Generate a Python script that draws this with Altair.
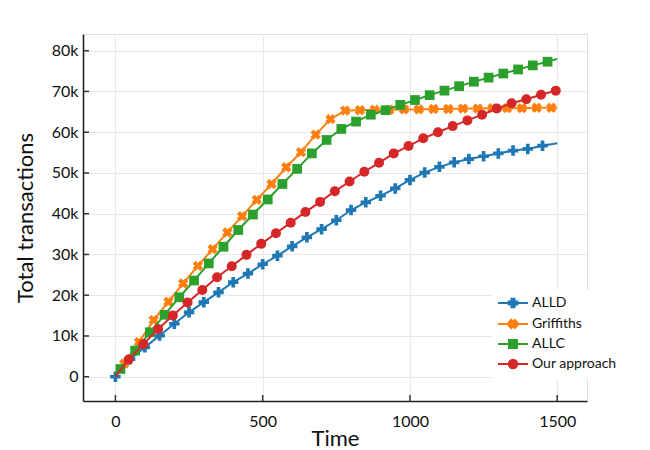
import altair as alt
import pandas as pd

SERIES = ["ALLD", "Griffiths", "ALLC", "Our approach"]
COLORS = ["#1f77b4", "#ff7f0e", "#2ca02c", "#d62728"]

# ALLD (blue, plus markers)
alld_t = [0, 50, 100, 150, 200, 250, 300, 350, 400, 450, 500, 550, 600, 650, 700,
          750, 800, 850, 900, 950, 1000, 1050, 1100, 1150, 1200, 1250, 1300, 1350,
          1400, 1450, 1500]
alld_v = [0, 4300, 7200, 10100, 13000, 15800, 18300, 20700, 23200, 25300, 27600,
          29700, 32000, 34200, 36200, 38400, 40900, 42800, 44400, 46200, 48300,
          50100, 51500, 52600, 53400, 54100, 54800, 55500, 55900, 56700, 57300]

# Griffiths (orange, x markers)
grif_t = [0, 30, 80, 130, 180, 230, 280, 330, 380, 430, 480, 530, 580, 630, 680,
          730, 780, 830, 880, 930, 980, 1030, 1080, 1130, 1180, 1230, 1280, 1330,
          1380, 1430, 1480, 1500]
grif_v = [0, 3200, 8500, 13900, 18400, 22900, 27200, 31300, 35400, 39400, 43400,
          47300, 51400, 55100, 59400, 63200, 65300, 65400, 65500, 65500, 65600,
          65600, 65700, 65700, 65800, 65800, 65900, 65900, 65900, 66000, 66000, 66000]

# ALLC (green, square markers)
allc_t = [0, 17, 67, 117, 167, 217, 267, 317, 367, 417, 467, 517, 567, 617, 667,
          717, 767, 817, 867, 917, 967, 1017, 1067, 1117, 1167, 1217, 1267, 1317,
          1367, 1417, 1467, 1500]
allc_v = [0, 1900, 6400, 10900, 15200, 19500, 23600, 27800, 31900, 36000, 39800,
          43500, 47300, 51000, 54800, 58100, 60800, 62600, 64300, 65400, 66700,
          67900, 69100, 70200, 71300, 72400, 73400, 74400, 75400, 76400, 77300, 78000]

# Our approach (red, circle markers)
ours_t = [0, 45, 95, 145, 195, 245, 295, 345, 395, 445, 495, 545, 595, 645, 695,
          745, 795, 845, 895, 945, 995, 1045, 1095, 1145, 1195, 1245, 1295, 1345,
          1395, 1445, 1495, 1500]
ours_v = [0, 4200, 8000, 11700, 15000, 18200, 21300, 24400, 27100, 29900, 32600,
          35200, 37800, 40400, 42900, 45500, 47900, 50300, 52500, 54800, 56600,
          58500, 60000, 61500, 62900, 64300, 65800, 67100, 68100, 69200, 70200, 70300]

TS = [alld_t, grif_t, allc_t, ours_t]
VS = [alld_v, grif_v, allc_v, ours_v]
MARKER_START = [0, 1, 1, 1]

X_TICKS = [0, 500, 1000, 1500]
Y_TICKS = [0, 10000, 20000, 30000, 40000, 50000, 60000, 70000, 80000]
X_DOMAIN = [-110, 1601]
Y_DOMAIN = [-5960, 84100]

W, H = 504, 367
FONT = "Lato"

PLUS = ("M-1,-0.35L-1,0.35L-0.35,0.35L-0.35,1L0.35,1L0.35,0.35L1,0.35L1,-0.35"
        "L0.35,-0.35L0.35,-1L-0.35,-1L-0.35,-0.35Z")
XCROSS = ("M-0.42,-0.99L-0.99,-0.42L-0.57,0L-0.99,0.42L-0.42,0.99L0,0.57L0.42,0.99"
          "L0.99,0.42L0.57,0L0.99,-0.42L0.42,-0.99L0,-0.57Z")
MARKER_PATHS = [PLUS, XCROSS, "square", "circle"]
MARKER_SIZES = [110, 110, 95, 100]

LINE = "M-3,0L3,0"
LEGEND_PATHS = [
    LINE + "M-0.85,-0.3L-0.85,0.3L-0.3,0.3L-0.3,0.85L0.3,0.85L0.3,0.3L0.85,0.3L0.85,-0.3"
           "L0.3,-0.3L0.3,-0.85L-0.3,-0.85L-0.3,-0.3Z",
    LINE + "M-0.36,-0.84L-0.84,-0.36L-0.48,0L-0.84,0.36L-0.36,0.84L0,0.48L0.36,0.84"
           "L0.84,0.36L0.48,0L0.84,-0.36L0.36,-0.84L0,-0.48Z",
    LINE + "M-0.8,-0.8L0.8,-0.8L0.8,0.8L-0.8,0.8Z",
    LINE + "M-0.85,0A0.85,0.85 0 1,0 0.85,0A0.85,0.85 0 1,0 -0.85,0Z",
]

legend = alt.Legend(
    title=None, orient="none", legendX=409, legendY=256, padding=6,
    fillColor="white", symbolSize=100, symbolStrokeWidth=2,
    labelFont=FONT, labelFontSize=14, labelColor="#111",
    rowPadding=3, symbolOffset=8, labelOffset=12,
)

x_axis = alt.Axis(
    values=X_TICKS, format="d", title="Time", ticks=False, grid=True,
    gridColor="#e8e8e8", gridWidth=1, domainColor="#222", domainWidth=1.6,
    labelFont=FONT, labelFontSize=16, labelColor="#111", labelPadding=12,
    labelFlush=False, titleFont=FONT, titleFontSize=22, titleFontWeight="normal",
    titleColor="#111", titleY=44, titleBaseline="alphabetic",
)
y_axis = alt.Axis(
    values=Y_TICKS, title="Total transactions", ticks=False, grid=True,
    labelExpr="datum.value == 0 ? '0' : (datum.value / 1000) + 'k'",
    gridColor="#e8e8e8", gridWidth=1, domainColor="#222", domainWidth=1.6,
    labelFont=FONT, labelFontSize=16, labelColor="#111", labelPadding=5,
    labelFlush=False, titleFont=FONT, titleFontSize=22, titleFontWeight="normal",
    titleColor="#111", titleX=-51, titleY=H / 2, titleBaseline="alphabetic",
    titleAlign="center",
)

x_enc = alt.X("t:Q", scale=alt.Scale(domain=X_DOMAIN, nice=False, zero=False), axis=x_axis)
y_enc = alt.Y("v:Q", scale=alt.Scale(domain=Y_DOMAIN, nice=False, zero=False), axis=y_axis)

layers = []
for i, s in enumerate(SERIES):
    df = pd.DataFrame({"t": TS[i], "v": VS[i], "series": s})
    line = alt.Chart(df).mark_line(color=COLORS[i], strokeWidth=2).encode(x=x_enc, y=y_enc)
    pts = alt.Chart(df.iloc[MARKER_START[i]:-1]).mark_point(
        filled=True, size=MARKER_SIZES[i], opacity=1, shape=MARKER_PATHS[i],
        color=COLORS[i]
    ).encode(x=x_enc, y=y_enc)
    layers += [line, pts]

xt = alt.Chart(pd.DataFrame({"t": X_TICKS})).mark_rule(color="#333", strokeWidth=1.5).encode(
    x=x_enc, y=alt.value(H), y2=alt.value(H - 6))
yt = alt.Chart(pd.DataFrame({"v": Y_TICKS})).mark_rule(color="#333", strokeWidth=1.5).encode(
    y=y_enc, x=alt.value(0), x2=alt.value(6))
layers += [xt, yt]

# legend-only layer: no rows survive the filter, the legend lists the scale domain
leg = alt.Chart(pd.DataFrame({"series": SERIES})).transform_filter("false").mark_point(
    filled=True, opacity=1, strokeWidth=2
).encode(
    fill=alt.Fill("series:N", scale=alt.Scale(domain=SERIES, range=COLORS), legend=legend),
    stroke=alt.Stroke("series:N", scale=alt.Scale(domain=SERIES, range=COLORS), legend=legend),
    shape=alt.Shape("series:N", scale=alt.Scale(domain=SERIES, range=LEGEND_PATHS), legend=legend),
)
layers.append(leg)

chart = alt.layer(*layers).properties(
    width=W, height=H,
    padding={"left": 75, "top": 26, "right": 55, "bottom": 51},
    autosize=alt.AutoSizeParams(type="none"),
).configure_view(strokeWidth=0).configure(background="white")

chart.save("out.html", embed_options={"renderer": "svg", "actions": False})
